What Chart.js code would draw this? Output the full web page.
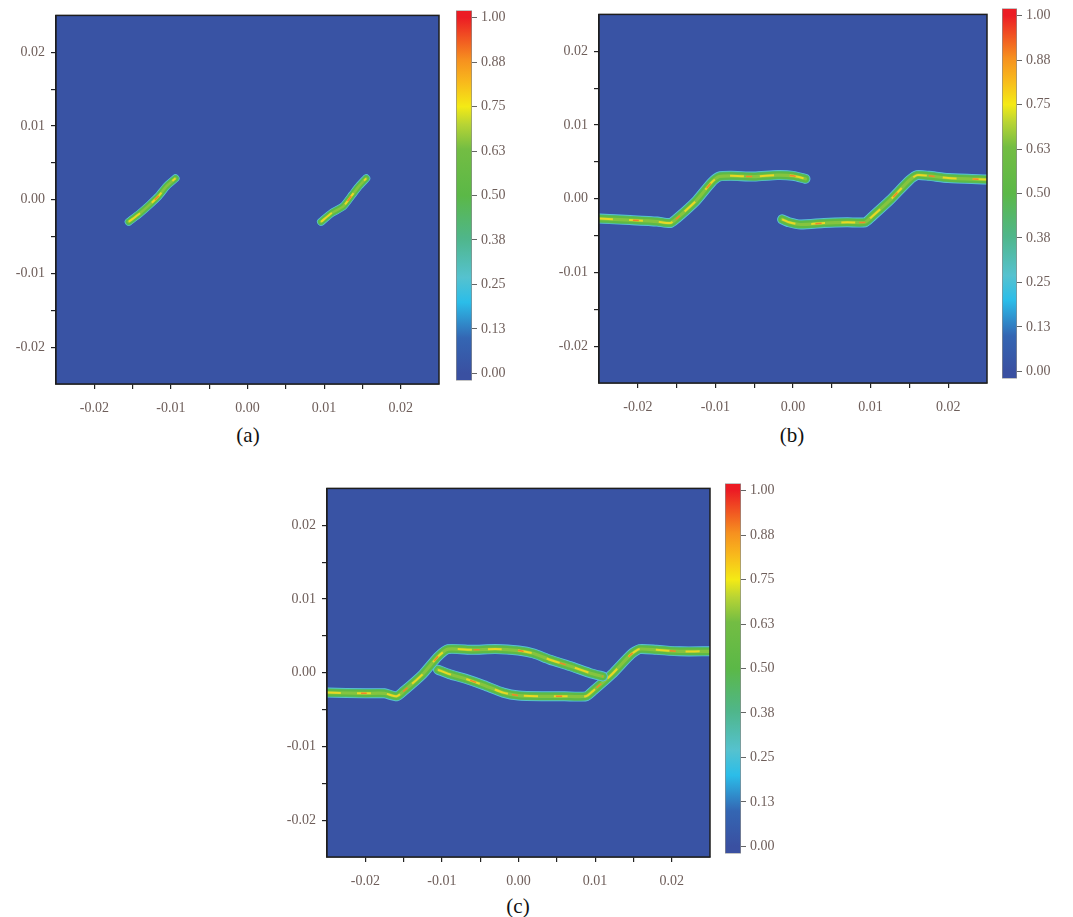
<!DOCTYPE html>
<html>
<head>
<meta charset="utf-8">
<script src="https://cdn.jsdelivr.net/npm/chart.js@4.4.1/dist/chart.umd.min.js"></script>
<style>
  body { margin: 0; background: #fff; width: 1073px; height: 917px; position: relative; overflow: hidden; font-family: "Liberation Serif", serif; }
  canvas { position: absolute; }
  .cap { position: absolute; font-size: 21px; color: #111; transform: translate(-50%, -50%); }
</style>
</head>
<body>
<div class="cap" style="left:248px;top:435px">(a)</div>
<div class="cap" style="left:792px;top:435px">(b)</div>
<div class="cap" style="left:518px;top:906px">(c)</div>
<script>
// axes of every panel
const AX_MIN = -0.025, AX_MAX = 0.025;
const axisMajor = [-0.02, -0.01, 0, 0.01, 0.02];
const axisMajorLabels = ['-0.02', '-0.01', '0.00', '0.01', '0.02'];
const axisMinor = [-0.015, -0.005, 0.005, 0.015];

// colour bar
const CB_MIN = -0.02, CB_MAX = 1.02;
const cbTicks = [0, 0.125, 0.25, 0.375, 0.5, 0.625, 0.75, 0.875, 1];
const cbLabels = ['0.00', '0.13', '0.25', '0.38', '0.50', '0.63', '0.75', '0.88', '1.00'];
const cmapPos = [0, 0.1, 0.2, 0.27, 0.38, 0.5, 0.63, 0.7, 0.75, 0.82, 0.88, 1];
const cmapCol = ['#3a50a1', '#3466b3', '#2bbde9', '#55c2cf', '#4fb68a', '#5bb847', '#73bd43', '#b8d434', '#f4ea15', '#f8b81c', '#f6911f', '#ec1c24'];

// interface curves, [x, y]
const a1 = [[-0.0155, -0.0030], [-0.0140, -0.0018], [-0.0128, -0.0007], [-0.0116, 0.0005], [-0.0106, 0.0018], [-0.0094, 0.0029]];
const a2 = [[0.0096, -0.0030], [0.0110, -0.0018], [0.0125, -0.0009], [0.0137, 0.0007], [0.0146, 0.0019], [0.0155, 0.0029]];

const b1 = [[-0.025, -0.0027], [-0.021, -0.0029], [-0.0175, -0.0031], [-0.0158, -0.0033], [-0.0150, -0.0027],
            [-0.0125, -0.0003], [-0.0105, 0.0022], [-0.0095, 0.0030], [-0.0080, 0.0031], [-0.0050, 0.0030],
            [-0.0020, 0.0032], [0.0000, 0.0031], [0.0016, 0.0027]];
const b2 = [[-0.0014, -0.0028], [-0.0005, -0.0032], [0.0010, -0.0035], [0.0040, -0.0033], [0.0070, -0.0032],
            [0.0093, -0.0032], [0.0102, -0.0024], [0.0125, -0.0002], [0.0150, 0.0025], [0.0160, 0.0032],
            [0.0175, 0.0031], [0.0200, 0.0028], [0.0250, 0.0026]];

const c1 = [[-0.025, -0.0027], [-0.020, -0.0028], [-0.0175, -0.0028], [-0.0159, -0.0032], [-0.0150, -0.0025],
            [-0.0125, -0.0002], [-0.0105, 0.0022], [-0.0092, 0.0032], [-0.0060, 0.0031], [-0.0030, 0.0032],
            [0.0000, 0.0030], [0.0020, 0.0026], [0.0040, 0.0018], [0.0070, 0.0008], [0.0095, -0.0001], [0.0110, -0.0005]];
const c2 = [[-0.0105, 0.0004], [-0.0090, -0.0002], [-0.0070, -0.0008], [-0.0045, -0.0017], [-0.0020, -0.0027],
            [0.0000, -0.0031], [0.0030, -0.0032], [0.0060, -0.0032], [0.0088, -0.0032], [0.0098, -0.0024],
            [0.0122, -0.0002], [0.0147, 0.0025], [0.0158, 0.0032], [0.0180, 0.0031], [0.0210, 0.0029], [0.0250, 0.0029]];

// band look: outer halo to core
const bandLayers = [
  { color: '#5cc6dd', k: 1.0 },
  { color: '#4cba86', k: 0.86 },
  { color: '#5eba46', k: 0.72 },
  { color: '#86c43f', k: 0.32 },
];

const panels = [
  { curves: [a1, a2], band: 8, plot: { l: 56, t: 5, r: 439, b: 384 }, bar: { l: 456, t: 6, r: 472, b: 385 } },
  { curves: [b1, b2], band: 10, plot: { l: 599, t: 4, r: 987, b: 383 }, bar: { l: 1002, t: 4, r: 1017, b: 383 } },
  { curves: [c1, c2], band: 10, plot: { l: 327, t: 478, r: 710, b: 857 }, bar: { l: 725, t: 479, r: 741, b: 858 } },
];

const TXT = '#6e5e5a';
const FONT = { family: '"Liberation Serif", serif', size: 14 };

const plotBg = {
  id: 'plotBg',
  beforeDatasetsDraw(chart, args, opts) {
    const a = chart.chartArea, c = chart.ctx;
    c.save(); c.fillStyle = opts.color; c.fillRect(a.left, a.top, a.width, a.height); c.restore();
  },
  afterDatasetsDraw(chart) {
    const a = chart.chartArea, c = chart.ctx;
    c.save(); c.strokeStyle = '#1e1e1e'; c.lineWidth = 1.5;
    c.strokeRect(a.left, a.top, a.width, a.height); c.restore();
  }
};

function axisOpts(kind, size) {
  return {
    type: 'linear', min: AX_MIN, max: AX_MAX,
    afterFit: s => { if (kind === 'x') s.height = size; else s.width = size; },
    afterBuildTicks: s => { s.ticks = [...axisMajor, ...axisMinor].sort((p, q) => p - q).map(v => ({ value: v })); },
    ticks: {
      autoSkip: false, maxRotation: 0, color: TXT, font: FONT, padding: kind === 'x' ? 11 : 6,
      callback: v => { const i = axisMajor.findIndex(m => Math.abs(m - v) < 1e-9); return i < 0 ? '' : axisMajorLabels[i]; }
    },
    grid: { drawOnChartArea: false, tickLength: 5, color: '#222', lineWidth: 1.2 },
    border: { display: true, color: '#1e1e1e', width: 1.5 },
  };
}

// Chart.js paints dataset 0 on top, so the core goes first and the halo last
function curveSets(pts, band) {
  const base = () => ({ data: pts.map(([x, y]) => ({ x, y })), showLine: true, pointRadius: 0,
    borderCapStyle: 'round', borderJoinStyle: 'round', tension: 0.2, clip: 0 });
  const sets = [
    { ...base(), borderColor: '#f0862a', borderWidth: 1.5, borderDash: [6, 38], borderDashOffset: 10, borderCapStyle: 'butt' },
    { ...base(), borderColor: '#ead824', borderWidth: 2, borderDash: [14, 16], borderCapStyle: 'butt' },
  ];
  [...bandLayers].reverse().forEach(l => sets.push({ ...base(), borderColor: l.color, borderWidth: band * l.k }));
  return sets;
}

function addCanvas(l, t, w, h) {
  const cv = document.createElement('canvas');
  cv.width = w; cv.height = h;
  cv.style.left = l + 'px'; cv.style.top = t + 'px';
  cv.style.width = w + 'px'; cv.style.height = h + 'px';
  document.body.appendChild(cv);
  return cv;
}

function makePlot(p) {
  const yw = Math.min(60, p.plot.l), xh = 40, pad = 4;
  const pw = p.plot.r - p.plot.l, ph = p.plot.b - p.plot.t;
  const cv = addCanvas(p.plot.l - yw, p.plot.t - pad, yw + pw + pad, pad + ph + xh);
  new Chart(cv, {
    type: 'scatter',
    data: { datasets: p.curves.flatMap(c => curveSets(c, p.band)) },
    options: {
      responsive: false, animation: false,
      layout: { padding: { top: pad, right: pad, left: 0, bottom: 0 } },
      plugins: { legend: { display: false }, tooltip: { enabled: false }, plotBg: { color: '#3953a4' } },
      scales: { x: axisOpts('x', xh), y: axisOpts('y', yw) },
    },
    plugins: [plotBg],
  });
}

function cmapFill(ctx) {
  const ch = ctx.chart, y = ch.scales.y;
  if (!ch.chartArea || !y) return cmapCol[0];
  const g = ch.ctx.createLinearGradient(0, y.getPixelForValue(0), 0, y.getPixelForValue(1));
  cmapPos.forEach((f, i) => g.addColorStop(f, cmapCol[i]));
  return g;
}

function makeBar(p) {
  const lw = 50, pad = 8;
  const bw = p.bar.r - p.bar.l, bh = p.bar.b - p.bar.t;
  const cv = addCanvas(p.bar.l, p.bar.t - pad, bw + lw, bh + 2 * pad);
  new Chart(cv, {
    type: 'bar',
    data: { labels: [''], datasets: [{ data: [[CB_MIN, CB_MAX]], backgroundColor: cmapFill, borderColor: '#8c8c8c', borderWidth: 1,
      borderSkipped: false, barPercentage: 1, categoryPercentage: 1 }] },
    options: {
      responsive: false, animation: false,
      layout: { padding: { top: pad, bottom: pad } },
      plugins: { legend: { display: false }, tooltip: { enabled: false } },
      scales: {
        x: { display: false },
        y: {
          position: 'right', min: CB_MIN, max: CB_MAX,
          afterFit: s => { s.width = lw; },
          afterBuildTicks: s => { s.ticks = cbTicks.map(v => ({ value: v })); },
          ticks: { color: TXT, font: FONT, padding: 4, callback: (v, i) => cbLabels[i] },
          grid: { drawOnChartArea: false, tickLength: 5, color: '#666' },
          border: { display: false },
        },
      },
    },
  });
}

panels.forEach(p => { makePlot(p); makeBar(p); });
</script>
</body>
</html>
